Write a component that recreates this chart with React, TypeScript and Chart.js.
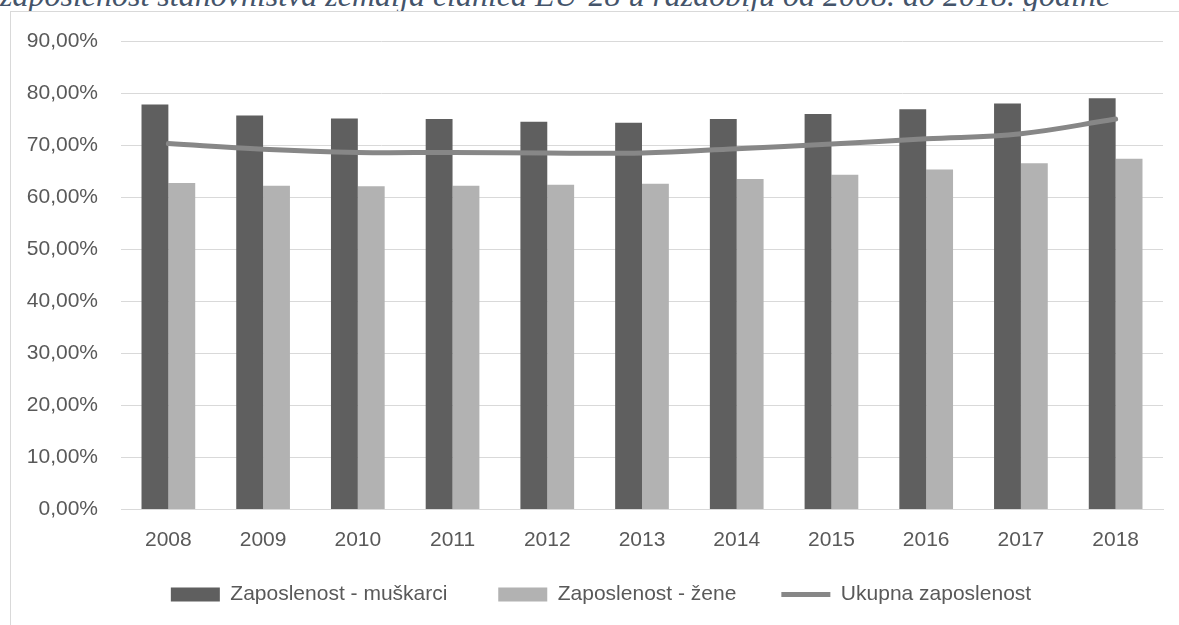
import React, { useEffect, useRef } from "react";
import { Chart, registerables } from "chart.js";

Chart.register(...registerables);

const years = ["2008", "2009", "2010", "2011", "2012", "2013", "2014", "2015", "2016", "2017", "2018"];
const men = [77.8, 75.7, 75.1, 75.0, 74.5, 74.3, 75.0, 76.0, 76.9, 78.0, 79.0];
const women = [62.7, 62.2, 62.1, 62.2, 62.4, 62.6, 63.5, 64.3, 65.3, 66.5, 67.4];
const total = [70.3, 69.2, 68.6, 68.6, 68.5, 68.5, 69.3, 70.2, 71.2, 72.2, 75.0];
const seriesNames = ["Zaposlenost - muškarci", "Zaposlenost - žene", "Ukupna zaposlenost"];
const titleText = "zaposlenost stanovništva zemalja članica EU-28 u razdoblju od 2008. do 2018. godine";

const LEFT_PAD = 28;

export default function App() {
  const ref = useRef<HTMLCanvasElement | null>(null);

  useEffect(() => {
    document.body.style.margin = "0";
    const canvas = ref.current;
    if (!canvas) return;
    const chart = new Chart(canvas, {
      type: "bar",
      data: {
        labels: years,
        datasets: [
          {
            type: "bar",
            label: seriesNames[0],
            data: men,
            backgroundColor: "#5f5f5f",
            barPercentage: 1,
            categoryPercentage: 0.567,
            order: 2,
          },
          {
            type: "bar",
            label: seriesNames[1],
            data: women,
            backgroundColor: "#b2b2b2",
            barPercentage: 1,
            categoryPercentage: 0.567,
            order: 2,
          },
          {
            type: "line",
            label: seriesNames[2],
            data: total,
            borderColor: "#878787",
            backgroundColor: "#878787",
            borderWidth: 5,
            borderCapStyle: "round",
            tension: 0.4,
            pointRadius: 0,
            fill: false,
            order: 1,
          } as any,
        ],
      },
      plugins: [
        {
          id: "unclipY",
          afterLayout: (c: any) => {
            if (c.scales && c.scales.y) c.scales.y.left = 0;
          },
        },
      ],
      options: {
        animation: false,
        responsive: false,
        maintainAspectRatio: false,
        layout: { padding: { top: 29, right: 16, left: LEFT_PAD, bottom: 10 } },
        plugins: {
          tooltip: { enabled: false },
          legend: {
            position: "bottom",
            labels: {
              usePointStyle: true,
              pointStyleWidth: 49,
              boxHeight: 14,
              padding: 10,
              color: "#595959",
              font: { family: "'Liberation Sans', Arial, sans-serif", size: 21 },
              sort: (a: any, b: any) => a.datasetIndex - b.datasetIndex,
              generateLabels: (c: any) => {
                const items = Chart.defaults.plugins.legend.labels.generateLabels(c);
                return items.map((it: any) => {
                  if (it.datasetIndex === 2) {
                    return { ...it, pointStyle: "line", strokeStyle: "#878787", lineWidth: 5, fillStyle: "#878787" };
                  }
                  const pad = it.datasetIndex === 0 ? 7 : 6;
                  return { ...it, text: it.text + "\u00a0".repeat(pad), pointStyle: "rect", lineWidth: 0 };
                });
              },
            },
          },
        },
        scales: {
          x: {
            grid: { display: false, drawTicks: false },
            border: { display: true, color: "#d9d9d9", width: 1 },
            ticks: {
              color: "#595959",
              padding: 18,
              font: { family: "'Liberation Sans', Arial, sans-serif", size: 21 },
            },
            afterFit: (s: any) => {
              s.height = 64.5;
            },
          },
          y: {
            min: 0,
            max: 90,
            grid: { color: "#d9d9d9", lineWidth: 1, drawTicks: false },
            border: { display: false },
            ticks: {
              stepSize: 10,
              color: "#595959",
              padding: 23,
              font: { family: "'Liberation Sans', Arial, sans-serif", size: 21 },
              callback: (v: any) => Number(v).toFixed(2).replace(".", ",") + "%",
            },
            afterFit: (s: any) => {
              s.width = 110 - LEFT_PAD;
              s.paddingTop = 12;
              s.paddingBottom = 0;
            },
          },
        },
      },
    });
    return () => chart.destroy();
  }, []);

  return (
    <div style={{ position: "relative", width: 1179, height: 625, overflow: "hidden", background: "#fff" }}>
      <div
        style={{
          position: "absolute",
          left: 0,
          top: -21,
          whiteSpace: "nowrap",
          fontFamily: "'Liberation Serif', 'Times New Roman', serif",
          fontStyle: "italic",
          fontSize: 32,
          lineHeight: "32px",
          color: "#44546a",
        }}
      >
        {titleText}
      </div>
      <div
        style={{
          position: "absolute",
          left: 10,
          top: 11,
          width: 1200,
          height: 700,
          border: "1px solid #d9d9d9",
          background: "#fff",
        }}
      />
      <canvas ref={ref} width={1168} height={613} style={{ position: "absolute", left: 11, top: 12, width: 1168, height: 613 }} />
    </div>
  );
}
